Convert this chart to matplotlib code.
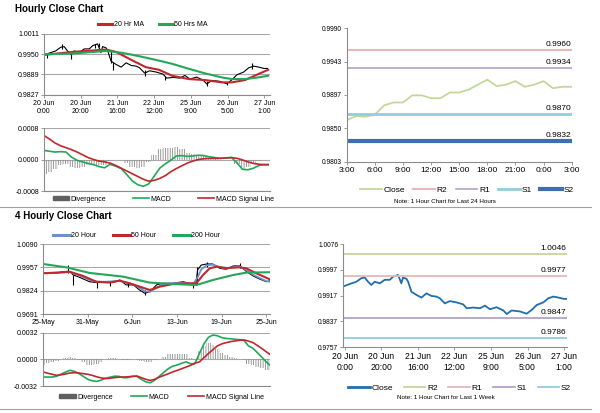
import matplotlib
matplotlib.use("Agg")
from matplotlib import pyplot as plt
from matplotlib.lines import Line2D
from matplotlib.patches import Patch
import numpy as np

plt.rcParams['font.family'] = ['Liberation Sans', 'DejaVu Sans']
plt.rcParams['hatch.linewidth'] = 0.6

# ---------------- hourly data (last week, hours of trading since 20 Jun 0:00)
close_hours = [0, 2.7, 6.4, 9.1, 11, 12.8, 14.6, 16.4, 19.2, 21.9, 24.7, 26.5, 29.2, 31, 31.9,
               33.8, 34.7, 36.5, 39.3, 42, 44.7, 47.5, 50.2, 52, 54.8, 57.5, 61.2, 64.8, 66.7,
               70.3, 74, 76.7, 79.4, 83.1, 86.8, 88.6, 91.3, 95.9, 99.5, 102.3, 105, 108.6,
               111.4, 114.1, 116.9, 119.8, 121.6]
close_vals = [0.9947, 0.9953, 0.9960, 0.9971, 0.9973, 0.9960, 0.9950, 0.9960, 0.9955, 0.9966,
              0.9966, 0.9976, 0.9981, 0.9955, 0.9973, 0.9969, 0.9960, 0.9929, 0.9919, 0.9911,
              0.9924, 0.9916, 0.9914, 0.9909, 0.9893, 0.9900, 0.9896, 0.9890, 0.9878, 0.9880,
              0.9878, 0.9886, 0.9875, 0.9881, 0.9871, 0.9860, 0.9871, 0.9868, 0.9861, 0.9873,
              0.9888, 0.9896, 0.9909, 0.9914, 0.9911, 0.9907, 0.9907]

spike_hours = [1.5, 10, 14.6, 28, 30, 36.5, 37.5, 55, 66, 88.6, 99.5, 113]
spike_lo = [0.9940, 0.9965, 0.9937, 0.9970, 0.9972, 0.9925, 0.9902, 0.9885, 0.9873, 0.9853, 0.9856, 0.9905]
spike_hi = [0.9955, 0.9982, 0.9956, 0.9982, 0.9984, 0.9962, 0.9928, 0.9902, 0.9885, 0.9868, 0.9866, 0.9924]

ma20_hours = [0, 15.8, 33.8, 39.2, 48.2, 55.4, 62.6, 69.8, 78.8, 87.8, 96.8, 102.2, 109.4, 116.6, 122]
ma20_vals = [0.9948, 0.9957, 0.9964, 0.9957, 0.9931, 0.9911, 0.9903, 0.9885, 0.9875, 0.9872,
             0.9865, 0.9865, 0.9872, 0.9890, 0.9903]
ma50_hours = [0, 15.8, 33.8, 42.8, 51.8, 60.8, 69.8, 78.8, 87.8, 96.8, 102.2, 109.4, 116.6, 122]
ma50_vals = [0.9950, 0.9952, 0.9960, 0.9954, 0.9944, 0.9933, 0.9921, 0.9906, 0.9892, 0.9880,
             0.9875, 0.9875, 0.9880, 0.9885]

macd_hours = list(range(0, 121, 3)) + [122]
macd_h = [0.00023, 0.00021, 0.00019, 0.00020, 0.00019, 0.00006, -0.00002, -0.00006, -0.00010, -0.00013,
          -0.00018, -0.00021, -0.00012, -0.00017, -0.00023, -0.00038, -0.00054, -0.00064, -0.00068, -0.00062,
          -0.00042, -0.00022, -0.00011, -0.00002, 0.00009, 0.00010, 0.00008, 0.00009, 0.00011, 0.00010,
          0.00007, 0.00005, 0.00003, 0.00004, 0.00005, -0.00008, -0.00025, -0.00026, -0.00022, -0.00015,
          -0.00013, -0.00013]
signal_h = [0.00061, 0.00052, 0.00042, 0.00035, 0.00030, 0.00025, 0.00019, 0.00012, 0.00005, 0.00000,
            -0.00004, -0.00006, -0.00009, -0.00015, -0.00022, -0.00029, -0.00036, -0.00043, -0.00050, -0.00055,
            -0.00053, -0.00048, -0.00041, -0.00031, -0.00023, -0.00016, -0.00009, -0.00004, 0.00000, 0.00002,
            0.00003, 0.00003, 0.00003, 0.00004, 0.00005, 0.00003, -0.00001, -0.00006, -0.00010, -0.00012,
            -0.00013, -0.00013]

hourly_ticks = [0, 20, 40, 60, 80, 100, 120]
hourly_labels = ['20 Jun\n0:00', '20 Jun\n20:00', '21 Jun\n16:00', '22 Jun\n12:00',
                 '25 Jun\n9:00', '26 Jun\n5:00', '27 Jun\n1:00']

# ---------------- 4 hourly data (trading days since 25 May)
close4_days = [0, 0.75, 1.5, 2.2, 2.8, 3.0, 3.4, 4.1, 5.2, 6.0, 7.1, 7.8, 8.6, 9.3, 10.1, 10.8,
               11.4, 12.0, 12.7, 13.4, 14.5, 15.7, 16.8, 17.1, 17.3, 17.7, 18.3, 19.0, 19.8, 20.5,
               21.3, 22.0, 22.8, 23.5, 24.3, 25.0, 25.4]
close4_vals = [0.9923, 0.9927, 0.9923, 0.9932, 0.9934, 0.9932, 0.9913, 0.9900, 0.9875, 0.9870,
               0.9875, 0.9870, 0.9885, 0.9857, 0.9857, 0.9828, 0.9809, 0.9819, 0.9857, 0.9866,
               0.9866, 0.9875, 0.9857, 0.9862, 0.9942, 0.9970, 0.9976, 0.9976, 0.9951, 0.9946,
               0.9965, 0.9965, 0.9932, 0.9908, 0.9889, 0.9875, 0.9880]
spike4_days = [2.8, 3.4, 6.0, 7.5, 9.5, 11.4, 16.8, 17.2, 18.3, 22.0]
spike4_lo = [0.9925, 0.9857, 0.9838, 0.9850, 0.9845, 0.9800, 0.9840, 0.9862, 0.9960, 0.9955]
spike4_hi = [0.9968, 0.9915, 0.9880, 0.9880, 0.9870, 0.9825, 0.9870, 0.9960, 0.9985, 0.9980]

ma20_4_days = [0, 1.5, 3.0, 4.1, 5.2, 6.0, 7.1, 8.6, 9.3, 10.1, 10.8, 11.4, 12.0, 12.7, 13.4, 14.5,
               15.7, 16.8, 17.3, 17.7, 18.3, 19.0, 19.8, 20.5, 21.3, 22.0, 22.8, 23.5, 24.3, 25.0, 25.4]
ma20_4 = [0.9925, 0.9925, 0.9930, 0.9910, 0.9885, 0.9875, 0.9875, 0.9880, 0.9870, 0.9860, 0.9840,
          0.9820, 0.9818, 0.9840, 0.9860, 0.9866, 0.9870, 0.9862, 0.9900, 0.9945, 0.9968, 0.9972,
          0.9958, 0.9950, 0.9958, 0.9962, 0.9940, 0.9915, 0.9895, 0.9878, 0.9875]
ma50_4_days = [0, 1.49, 2.98, 4.48, 5.97, 7.46, 8.58, 9.7, 10.82, 11.94, 13.06, 14.55, 16.04,
               17.16, 17.9, 18.65, 19.4, 20.5, 22.0, 22.76, 23.87, 25.36]
ma50_4 = [0.9923, 0.9927, 0.9932, 0.9908, 0.9875, 0.9870, 0.9881, 0.9866, 0.9847, 0.9828, 0.9847,
          0.9862, 0.9866, 0.9866, 0.9913, 0.9951, 0.9961, 0.9953, 0.9957, 0.9951, 0.9923, 0.9889]
ma200_4_days = [0, 2.61, 5.22, 8.95, 11.94, 14.55, 17.16, 19.02, 21.26, 22.76, 25.36]
ma200_4 = [0.9976, 0.9957, 0.9925, 0.9904, 0.9870, 0.9862, 0.9856, 0.9885, 0.9913, 0.9927, 0.9929]

macd4_days = [i * 0.5 for i in range(51)] + [25.4]
macd_4 = [-0.00208, -0.00208, -0.00208, -0.00200, -0.00175, -0.00150, -0.00128, -0.00140, -0.00165, -0.00200,
          -0.00235, -0.00252, -0.00260, -0.00245, -0.00222, -0.00210, -0.00198, -0.00200, -0.00216, -0.00215,
          -0.00200, -0.00200, -0.00235, -0.00265, -0.00276, -0.00245, -0.00200, -0.00155, -0.00110, -0.00080,
          -0.00066, -0.00045, -0.00028, -0.00050, -0.00048, 0.00072, 0.00184, 0.00262, 0.00290, 0.00282,
          0.00260, 0.00250, 0.00245, 0.00240, 0.00235, 0.00225, 0.00160, 0.00132, 0.00080, 0.00025,
          -0.00030, -0.00068]
signal_4 = [-0.00148, -0.00162, -0.00175, -0.00188, -0.00182, -0.00172, -0.00160, -0.00156, -0.00160, -0.00168,
            -0.00175, -0.00188, -0.00205, -0.00218, -0.00226, -0.00222, -0.00215, -0.00210, -0.00208, -0.00205,
            -0.00200, -0.00196, -0.00215, -0.00235, -0.00248, -0.00235, -0.00210, -0.00190, -0.00170, -0.00148,
            -0.00130, -0.00110, -0.00090, -0.00070, -0.00045, -0.00028, 0.00020, 0.00070, 0.00115, 0.00160,
            0.00185, 0.00200, 0.00212, 0.00220, 0.00228, 0.00232, 0.00218, 0.00200, 0.00165, 0.00130,
            0.00090, 0.00060]
four_ticks = [0, 5, 10, 15, 20, 25]
four_labels = ['25-May', '31-May', '6-Jun', '13-Jun', '19-Jun', '25-Jun']

# ---------------- last 24 hours
day_hours = list(range(25))
day_close = [0.9861, 0.9867, 0.9866, 0.9869, 0.9882, 0.9886, 0.9886, 0.9896, 0.9896, 0.9892,
             0.9892, 0.9900, 0.9900, 0.9904, 0.9911, 0.9918, 0.9909, 0.9911, 0.9916, 0.9908,
             0.9911, 0.9916, 0.9906, 0.9908, 0.9908]
day_ticks = list(range(0, 25, 3))
day_labels = ['3:00', '6:00', '9:00', '12:00', '15:00', '18:00', '21:00', '0:00', '3:00']
day_levels = {'R2': 0.9960, 'R1': 0.9934, 'S1': 0.9870, 'S2': 0.9832}
week_levels = {'R2': 1.0046, 'R1': 0.9977, 'S1': 0.9847, 'S2': 0.9786}

GRAY = '#8c8c8c'
RED = '#c0282d'
GREEN = '#23a859'
BLUE = '#6b93c9'


def style_left(ax, yticks, fmt):
    for s in ['top', 'right']:
        ax.spines[s].set_visible(False)
    for s in ['left', 'bottom']:
        ax.spines[s].set_color(GRAY)
        ax.spines[s].set_linewidth(0.8)
    ax.set_yticks(yticks)
    ax.set_yticklabels([fmt % v for v in yticks])
    ax.set_ylim(yticks[0], yticks[-1])
    ax.yaxis.grid(True, color='#a8a8a8', lw=0.8)
    ax.set_axisbelow(True)
    ax.tick_params(axis='both', labelsize=5, length=2, width=0.6, color=GRAY, pad=1.5)


def style_right(ax, yticks, fmt):
    for s in ['top', 'right']:
        ax.spines[s].set_visible(False)
    for s in ['left', 'bottom']:
        ax.spines[s].set_color(GRAY)
        ax.spines[s].set_linewidth(0.8)
    ax.set_yticks(yticks)
    ax.set_yticklabels([fmt % v for v in yticks])
    ax.set_ylim(yticks[0], yticks[-1])
    ax.tick_params(axis='y', labelsize=4.8, length=2, width=0.6, color=GRAY, pad=1.5)
    ax.tick_params(axis='x', labelsize=6, length=2, width=0.6, color=GRAY, pad=1.5)


fig = plt.figure(figsize=(6, 4.13), dpi=100)

fig.text(0.025, 0.978, 'Hourly Close Chart', fontsize=7, fontweight='bold', va='center')
fig.text(0.025, 0.477, '4 Hourly Close Chart', fontsize=7, fontweight='bold', va='center')
fig.add_artist(Line2D([0.0, 0.985], [0.5, 0.5], color='#a0a0a0', lw=0.8))
fig.add_artist(Line2D([0.0, 0.985], [0.01, 0.01], color='#a0a0a0', lw=0.8))

# ---- hourly price
ax1 = fig.add_axes([0.0733, 0.770, 0.3767, 0.1477])
ax1.plot(close_hours, close_vals, color='black', lw=0.8)
ax1.vlines(spike_hours, spike_lo, spike_hi, color='black', lw=0.8)
ax1.plot(ma20_hours, ma20_vals, color=RED, lw=1.5)
ax1.plot(ma50_hours, ma50_vals, color=GREEN, lw=1.5)
ax1.set_xlim(0, 123)
ax1.set_xticks(hourly_ticks)
ax1.set_xticklabels(hourly_labels)
style_left(ax1, [0.9827, 0.9889, 0.9950, 1.0011], '%.4f')
fig.legend([Line2D([], [], color=RED, lw=2.2), Line2D([], [], color=GREEN, lw=2.2)],
           ['20 Hr MA', '50 Hrs MA'], loc='center', bbox_to_anchor=(0.255, 0.9395), ncol=2,
           frameon=False, fontsize=5, handlelength=2.0, handletextpad=0.2, columnspacing=2.2)

# ---- hourly MACD
ax2 = fig.add_axes([0.0733, 0.5375, 0.3767, 0.1525])
div_h = np.array(macd_h) - np.array(signal_h)
ax2.bar(macd_hours, div_h, width=3.0, facecolor='none', edgecolor='#8a8a8a', lw=0,
        hatch='|||||||')
ax2.plot(macd_hours, macd_h, color=GREEN, lw=1.2)
ax2.plot(macd_hours, signal_h, color=RED, lw=1.2)
ax2.set_xlim(0, 123)
ax2.set_xticks(hourly_ticks)
ax2.set_xticklabels([])
style_left(ax2, [-0.0008, 0.0, 0.0008], '%.4f')
ax2.tick_params(axis='x', length=0)
fig.legend([Patch(color='#606060'), Line2D([], [], color=GREEN, lw=1.2), Line2D([], [], color=RED, lw=1.2)],
           ['Divergence', 'MACD', 'MACD Signal Line'], loc='center', bbox_to_anchor=(0.272, 0.518),
           ncol=3, frameon=False, fontsize=5, handlelength=2.4, handleheight=0.5, handletextpad=0.2,
           columnspacing=3.8)

# ---- 4 hourly price
ax3 = fig.add_axes([0.0717, 0.2397, 0.3783, 0.1695])
ax3.plot(close4_days, close4_vals, color='black', lw=0.8)
ax3.vlines(spike4_days, spike4_lo, spike4_hi, color='black', lw=0.8)
ax3.plot(ma20_4_days, ma20_4, color=BLUE, lw=1.3)
ax3.plot(ma50_4_days, ma50_4, color=RED, lw=1.5)
ax3.plot(ma200_4_days, ma200_4, color=GREEN, lw=1.5)
ax3.set_xlim(0, 25.4)
ax3.set_xticks(four_ticks)
ax3.set_xticklabels(four_labels)
style_left(ax3, [0.9691, 0.9824, 0.9957, 1.0090], '%.4f')
fig.legend([Line2D([], [], color=BLUE, lw=2.2), Line2D([], [], color=RED, lw=2.2),
            Line2D([], [], color=GREEN, lw=2.2)],
           ['20 Hour', '50 Hour', '200 Hour'], loc='center', bbox_to_anchor=(0.228, 0.4286), ncol=3,
           frameon=False, fontsize=5, handlelength=2.4, handletextpad=0.2, columnspacing=2.4)

# ---- 4 hourly MACD
ax4 = fig.add_axes([0.0717, 0.0642, 0.3783, 0.1307])
div_4 = np.array(macd_4) - np.array(signal_4)
ax4.bar(macd4_days, div_4, width=0.5, facecolor='none', edgecolor='#8a8a8a', lw=0,
        hatch='|||||||')
ax4.plot(macd4_days, macd_4, color=GREEN, lw=1.2)
ax4.plot(macd4_days, signal_4, color=RED, lw=1.2)
ax4.set_xlim(0, 25.4)
ax4.set_xticks(four_ticks)
ax4.set_xticklabels([])
style_left(ax4, [-0.0032, 0.0, 0.0032], '%.4f')
ax4.tick_params(axis='x', length=0)
fig.legend([Patch(color='#606060'), Line2D([], [], color=GREEN, lw=1.2), Line2D([], [], color=RED, lw=1.2)],
           ['Divergence', 'MACD', 'MACD Signal Line'], loc='center', bbox_to_anchor=(0.269, 0.0387),
           ncol=3, frameon=False, fontsize=5, handlelength=2.4, handleheight=0.5, handletextpad=0.2,
           columnspacing=2.6)

# ---- last 24 hours with levels
ax5 = fig.add_axes([0.5778, 0.6085, 0.375, 0.323])
day_colors = {'R2': '#e6b9b8', 'R1': '#b3a2c7', 'S1': '#93cddd', 'S2': '#3f6fb0'}
day_widths = {'R2': 1.5, 'R1': 1.2, 'S1': 2.0, 'S2': 3.0}
ax5.plot(day_hours, day_close, color='#c4d79b', lw=1.3)
for k, v in day_levels.items():
    ax5.axhline(v, color=day_colors[k], lw=day_widths[k])
    ax5.annotate('%.4f' % v, xy=(24, v), xytext=(0, 1.5), textcoords='offset points',
                 ha='right', va='bottom', fontsize=6)
ax5.set_xlim(0, 24)
ax5.set_xticks(day_ticks)
ax5.set_xticklabels(day_labels)
style_right(ax5, [0.9803, 0.9850, 0.9897, 0.9943, 0.9990], '%.4f')
fig.legend([Line2D([], [], color='#c4d79b', lw=1.3)] +
           [Line2D([], [], color=day_colors[k], lw=day_widths[k]) for k in day_levels],
           ['Close'] + list(day_levels), loc='center', bbox_to_anchor=(0.778, 0.540), ncol=5,
           frameon=False, fontsize=6, handlelength=2.6, handletextpad=0.2, columnspacing=1.0)
fig.text(0.742, 0.511, 'Note: 1 Hour Chart for Last 24 Hours', fontsize=4.5, ha='center', va='center')

# ---- last week with levels
ax6 = fig.add_axes([0.5717, 0.1591, 0.3728, 0.2494])
week_colors = {'R2': '#c4d79b', 'R1': '#e6b9b8', 'S1': '#b3a2c7', 'S2': '#93cddd'}
ax6.plot(close_hours, close_vals, color='#1f6fae', lw=1.3)
for k, v in week_levels.items():
    ax6.axhline(v, color=week_colors[k], lw=1.3)
    ax6.annotate('%.4f' % v, xy=(121.4, v), xytext=(0, 1.5), textcoords='offset points',
                 ha='right', va='bottom', fontsize=6)
ax6.set_xlim(-0.9, 121.4)
ax6.set_xticks(hourly_ticks)
ax6.set_xticklabels(hourly_labels)
style_right(ax6, [0.9757, 0.9837, 0.9917, 0.9997, 1.0076], '%.4f')
ax6.tick_params(axis='x', labelsize=6.2)
fig.legend([Line2D([], [], color='#1f6fae', lw=2.0)] +
           [Line2D([], [], color=week_colors[k], lw=1.3) for k in week_levels],
           ['Close'] + list(week_levels), loc='center', bbox_to_anchor=(0.766, 0.0605), ncol=5,
           frameon=False, fontsize=6, handlelength=2.6, handletextpad=0.2, columnspacing=1.3)
fig.text(0.743, 0.037, 'Note: 1 Hour Chart for Last 1 Week', fontsize=4.5, ha='center', va='center')

fig.savefig('out.png', dpi=100)
